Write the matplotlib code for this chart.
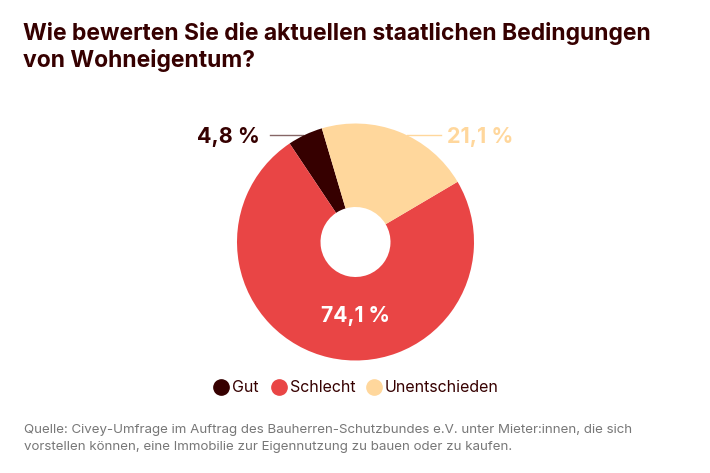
import matplotlib
matplotlib.use("Agg")
import matplotlib.pyplot as plt

labels = ["Gut", "Schlecht", "Unentschieden"]
values = [4.8, 74.1, 21.1]
value_labels = ["4,8 %", "74,1 %", "21,1 %"]
colors = ["#360000", "#E94545", "#FFD79C"]
title = "Wie bewerten Sie die aktuellen staatlichen Bedingungen\nvon Wohneigentum?"
source = ("Quelle: Civey-Umfrage im Auftrag des Bauherren-Schutzbundes e.V. unter Mieter:innen, die sich\n"
          "vorstellen können, eine Immobilie zur Eigennutzung zu bauen oder zu kaufen.")

W, H = 710, 473
plt.rcParams["font.family"] = ["Inter", "DejaVu Sans"]
fig = plt.figure(figsize=(W / 100, H / 100), dpi=100, facecolor="white")

# pie axes centred on the donut, radius 118.5 px
cx, cy, r = 355.5, 242, 118.5
ax = fig.add_axes([(cx - r) / W, 1 - (cy + r) / H, 2 * r / W, 2 * r / H])
ax.pie(values, colors=colors, startangle=106.5, counterclock=True, radius=1,
       wedgeprops=dict(width=1 - 35 / 118.5))
ax.set_xlim(-1, 1)
ax.set_ylim(-1, 1)
ax.set_aspect("equal")

fig.text(23 / W, 1 - 22 / H, title, fontsize=16.5, fontweight="bold", color="#360000",
         va="top", ha="left", linespacing=1.25)

fig.text(355 / W, 1 - 322 / H, value_labels[1], fontsize=15.2, fontweight="bold", color="white",
         ha="center", va="baseline")
fig.text(228 / W, 1 - 143 / H, value_labels[0], fontsize=15.5, fontweight="bold", color=colors[0],
         ha="center", va="baseline")
fig.text(480 / W, 1 - 143 / H, value_labels[2], fontsize=15.5, fontweight="bold", color=colors[2],
         ha="center", va="baseline")

# leader lines, they run under the wedges
fig.add_artist(plt.Line2D([270 / W, 303 / W], [1 - 135 / H] * 2, color=colors[0], lw=1, alpha=0.6))
fig.add_artist(plt.Line2D([407 / W, 441 / W], [1 - 135 / H] * 2, color=colors[2], lw=1))

# legend
for x, tx, name, c in zip([221, 279, 374], [232, 290, 385], labels, colors):
    fig.add_artist(plt.Line2D([x / W], [1 - 387 / H], marker="o", ms=11, color=c, ls="none"))
    fig.text(tx / W, 1 - 387 / H, name, fontsize=11.5, color="#360000", va="center", ha="left")

fig.text(24 / W, 1 - 424.5 / H, source, fontsize=9.6, color="#777777", va="top", ha="left",
         linespacing=1.45)

fig.savefig("out.png", dpi=100)
